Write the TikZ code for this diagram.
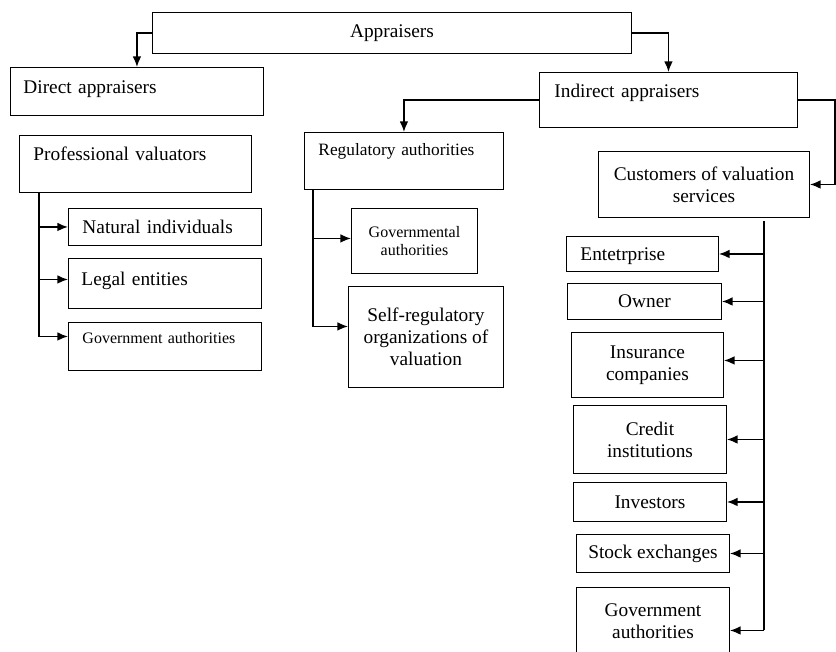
\documentclass[tikz,border=0pt]{standalone}
\usepackage{fontspec}
\setmainfont{Liberation Serif}
\usetikzlibrary{arrows.meta}

\tikzset{
  frame/.style={draw, line width=0.7pt, rectangle, anchor=north west, inner sep=0pt, font=\fontsize{14.5}{16.5}\selectfont},
  cbox/.style={frame, align=center},
  lbox/.style={frame, align=left, inner ysep=0pt},
  small/.style={font=\fontsize{12}{13.5}\selectfont},
  link/.style={line width=1.1pt, -{Latex[length=8pt,width=6.5pt]}},
  spine/.style={line width=0.8pt},
}

\begin{document}
\begin{tikzpicture}[x=0.75pt, y=-0.75pt]
\useasboundingbox (0,0) rectangle (836,651);

% top level
\node[cbox, minimum width=359.25pt, minimum height=30.75pt] (app) at (152,12) {Appraisers};
\node[lbox, inner xsep=9.75pt, text width=170.25pt, text height=19.5pt, text depth=16.5pt] (dir) at (10,67) {Direct appraisers};
\node[lbox, inner xsep=11.25pt, text width=171pt, text height=18.75pt, text depth=22.5pt] (ind) at (539,72) {Indirect appraisers};

% direct appraisers branch
\node[lbox, inner xsep=10.5pt, text width=153pt, text height=18.75pt, text depth=24pt] (prof) at (19,135) {Professional valuators};
\node[lbox, inner xsep=10.5pt, text width=123.75pt, text height=18.75pt, text depth=9pt] (nat) at (68,208) {Natural individuals};
\node[lbox, inner xsep=9.75pt, text width=125.25pt, text height=20.25pt, text depth=17.25pt] (leg) at (68,258) {Legal entities};
\node[lbox, small, inner xsep=10.5pt, text width=123.75pt, text height=15.75pt, text depth=20.25pt] (gs) at (68,322) {Government authorities};

% regulatory branch
\node[lbox, font=\fontsize{13}{15}\selectfont, inner xsep=10.5pt, text width=128.25pt, text height=17.25pt, text depth=25.5pt] (reg) at (304,132) {Regulatory authorities};
\node[cbox, small, minimum width=94.5pt, minimum height=48.75pt] (gov) at (351,208) {Governmental\\authorities};
\node[cbox, minimum width=116.25pt, minimum height=75.75pt] (self) at (348,286) {Self-regulatory\\organizations of\\valuation};

% customers branch
\node[cbox, minimum width=158.25pt, minimum height=49.5pt] (cust) at (598,151) {Customers of valuation\\services};
\node[lbox, inner xsep=10.5pt, text width=93pt, text height=18pt, text depth=8.25pt] (ent) at (566,236) {Entetrprise};
\node[cbox, minimum width=115.5pt, minimum height=27pt] (own) at (567,283) {Owner};
\node[cbox, minimum width=114pt, minimum height=48.75pt] (ins) at (571,332) {Insurance\\companies};
\node[cbox, minimum width=114.75pt, minimum height=51pt] (cre) at (573,405) {Credit\\institutions};
\node[cbox, minimum width=114.75pt, minimum height=29.25pt] (inv) at (573,482) {Investors};
\node[cbox, minimum width=114.75pt, minimum height=28.5pt] (sto) at (576,534) {Stock exchanges};
\node[cbox, minimum width=114.75pt, minimum height=51pt] (gvr) at (576,587) {Government\\authorities};

% helper points
\coordinate (edge) at (835,99);
\coordinate (pspine) at (39,192);
\coordinate (rspine) at (313,189);
\coordinate (cspine) at (764,221);
\coordinate (legin) at ([yshift=3pt]leg.west);
\coordinate (gsin) at ([yshift=7.5pt]gs.west);
\coordinate (govin) at ([yshift=1.9pt]gov.west);
\coordinate (selfin) at ([yshift=7.9pt]self.west);
\coordinate (insin) at ([yshift=3.4pt]ins.east);
\coordinate (gvrin) at ([yshift=-6.75pt]gvr.east);

% connections from the top
\draw[link] (app.west) -| (dir.north);
\draw[link] (app.east) -| (ind.north);
\draw[link] (ind.west) -| (reg.north);
\draw[link] (ind.east) -| (edge |- cust.east) -- (cust.east);

% professional valuators
\draw[link] (pspine |- nat.west) -- (nat.west);
\draw[link] (pspine |- legin) -- (legin);
\draw[link] (pspine) |- (gsin);

% regulatory authorities
\draw[link] (rspine |- govin) -- (govin);
\draw[link] (rspine) |- (selfin);

% customers
\draw[spine] (cspine) -- (cspine |- gvrin);
\draw[link] (cspine |- ent.east) -- (ent.east);
\draw[link] (cspine |- own.east) -- (own.east);
\draw[link] (cspine |- insin) -- (insin);
\draw[link] (cspine |- cre.east) -- (cre.east);
\draw[link] (cspine |- inv.east) -- (inv.east);
\draw[link] (cspine |- sto.east) -- (sto.east);
\draw[link] (cspine |- gvrin) -- (gvrin);
\end{tikzpicture}
\end{document}
